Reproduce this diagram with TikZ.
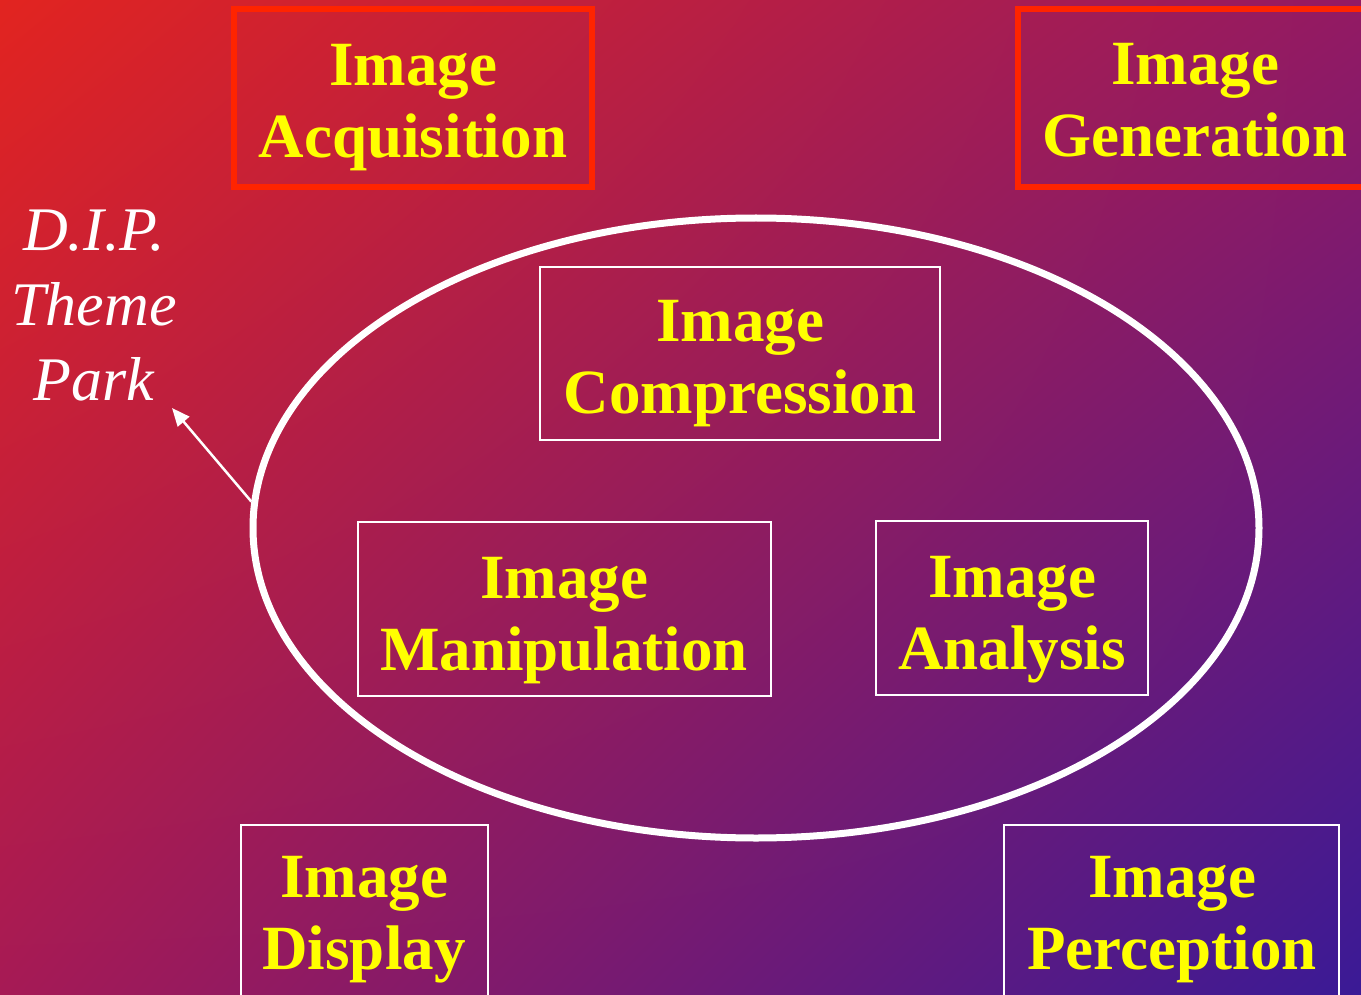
\documentclass[tikz,border=0pt]{standalone}
\usepackage{fontspec}
\setmainfont{Liberation Serif}
\usetikzlibrary{shapes.geometric,arrows.meta,shadings}
\definecolor{bgTL}{HTML}{E22420}
\definecolor{bgTR}{HTML}{931A63}
\definecolor{bgBL}{HTML}{A61A55}
\definecolor{bgBR}{HTML}{3A1A96}
\definecolor{redframe}{HTML}{FF2400}
\definecolor{txtyellow}{HTML}{FFFF00}
\tikzset{
  redbox/.style={draw=redframe, line width=6pt, rectangle, inner sep=0pt},
  whitebox/.style={draw=white, line width=2pt, rectangle, inner sep=0pt},
  boxtext/.style={text=txtyellow, align=center, inner sep=0pt,
    font=\bfseries\fontsize{63}{72}\selectfont},
  themetext/.style={text=white, align=center, inner sep=0pt,
    font=\itshape\fontsize{62}{75}\selectfont},
  ring/.style={draw=white, line width=7pt, ellipse, inner sep=0pt},
  pointer/.style={draw=white, line width=2.5pt, -{Triangle[length=18pt,width=15pt]}}
}
\begin{document}
\begin{tikzpicture}[x=1pt,y=-1pt]
\useasboundingbox (0,0) rectangle (1361,995);
\clip (0,0) rectangle (1361,995);
\shade[upper left=bgTL, upper right=bgTR, lower left=bgBL, lower right=bgBR] (0,0) rectangle (1361,995);

% outer boxes (text anchored at the baseline of its last line)
\node[redbox, minimum width=358pt, minimum height=178pt] (acq) at (413,98) {};
\node[boxtext, anchor=base] (acqt) at (413,158) {Image\\Acquisition};
\node[redbox, minimum width=362pt, minimum height=178pt] (gen) at (1199,98) {};
\node[boxtext, anchor=base] (gent) at (1195,157) {Image\\Generation};
\node[whitebox, minimum width=247pt, minimum height=190pt] (disp) at (364.5,920) {};
\node[boxtext, anchor=base] (dispt) at (364,969) {Image\\Display};
\node[whitebox, minimum width=335pt, minimum height=190pt] (perc) at (1171.5,920) {};
\node[boxtext, anchor=base] (perct) at (1172,969) {Image\\Perception};

% ellipse
\node[ring, minimum width=1006pt, minimum height=620pt] (ell) at (756,528) {};

% inner boxes
\node[whitebox, minimum width=400pt, minimum height=173pt] (comp) at (740,353.5) {};
\node[boxtext, anchor=base] (compt) at (740,413) {Image\\Compression};
\node[whitebox, minimum width=413pt, minimum height=174pt] (manip) at (564.5,609) {};
\node[boxtext, anchor=base] (manipt) at (564,670) {Image\\Manipulation};
\node[whitebox, minimum width=272pt, minimum height=174pt] (anal) at (1012,608) {};
\node[boxtext, anchor=base] (analt) at (1012,669) {Image\\Analysis};

% theme park label
\node[themetext, anchor=base] (theme) at (94,400) {D.I.P.\\Theme\\Park};
\coordinate (tip) at (172,408);
\draw[pointer] (ell.177) -- (tip);
\end{tikzpicture}
\end{document}
